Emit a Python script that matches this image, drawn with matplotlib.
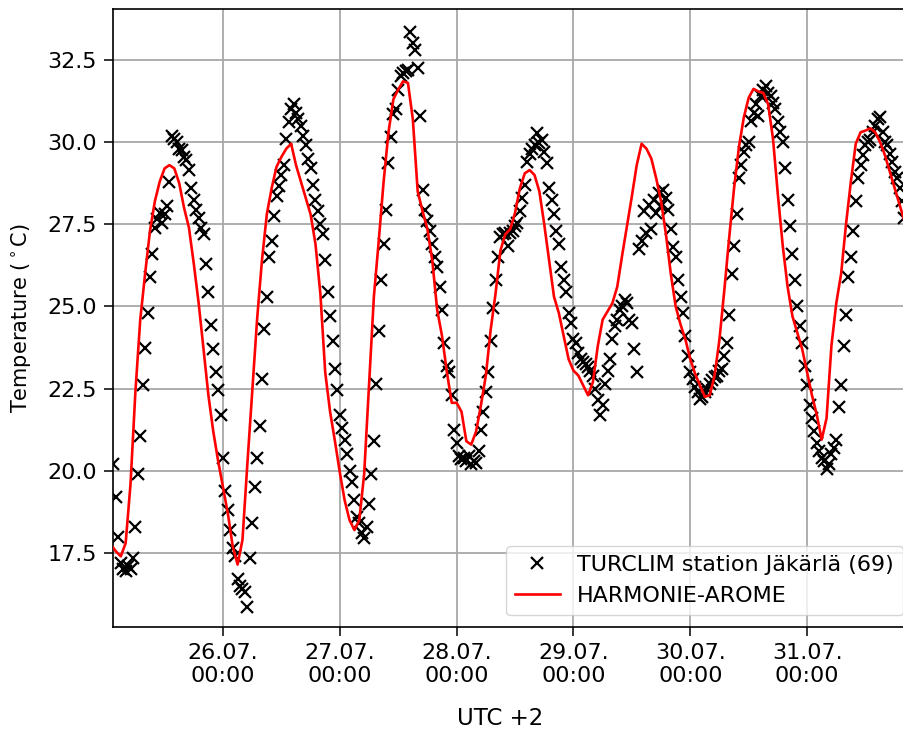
import numpy as np
import pandas as pd
import matplotlib
matplotlib.use('Agg')
import matplotlib.pyplot as plt
import matplotlib.dates as mdates

# Station observations, every 30 min from 25.07. 01:30 (UTC+2)
obs_25 = [20.2, 19.2, 18.0, 17.2, 17.0, 16.95, 17.1, 17.0, 17.35, 18.3,
          19.9, 21.05, 22.6, 23.75, 24.8, 25.9, 26.6, 27.4, 27.65, 27.85,
          27.55, 27.8, 28.05, 28.8, 30.2, 30.1, 30.0, 29.8, 29.75, 29.55,
          29.45, 29.15, 28.6, 28.25, 27.95, 27.7, 27.4, 27.2, 26.3, 25.45,
          24.45, 23.7, 23.0, 22.45, 21.7]
obs_26 = [20.4, 19.4, 18.8, 18.2, 17.65, 17.4, 16.7, 16.5, 16.4, 16.3,
          15.85, 17.35, 18.4, 19.5, 20.4, 21.35, 22.8, 24.3, 25.3, 26.5,
          27.0, 27.75, 28.35, 28.65, 29.0, 29.3, 30.1, 30.6, 31.0, 31.15,
          30.9, 30.7, 30.5, 30.2, 29.9, 29.5, 29.2, 28.7, 28.25, 27.9,
          27.5, 27.2, 26.4, 25.45, 24.7, 23.95, 23.1, 22.45]
obs_27 = [21.7, 21.3, 20.95, 20.5, 20.0, 19.65, 19.1, 18.6, 18.4, 18.1,
          17.95, 18.3, 19.0, 19.9, 20.9, 22.65, 24.25, 25.8, 26.9, 27.95,
          29.35, 30.15, 30.85, 31.0, 31.6, 32.0, 32.1, 32.15, 32.2, 33.35,
          33.0, 32.8, 32.25, 30.8, 28.55, 27.95, 27.6, 27.3, 26.9, 26.5,
          26.2, 25.6, 24.9, 23.9, 23.2, 23.0, 22.3, 21.25]
obs_28 = [20.85, 20.45, 20.35, 20.4, 20.3, 20.45, 20.2, 20.3, 20.25, 20.6,
          21.25, 21.8, 22.4, 23.0, 23.95, 24.95, 25.8, 26.5, 27.1, 27.2,
          27.25, 26.85, 27.25, 27.3, 27.45, 27.55, 27.9, 28.3, 28.7, 29.4,
          29.65, 29.8, 29.9, 30.28, 29.97, 30.07, 29.7, 29.36, 28.6, 28.24,
          27.8, 27.3, 26.9, 26.2, 25.8, 25.45, 24.8, 24.5]
obs_29 = [24.0, 23.9, 23.6, 23.4, 23.3, 23.25, 23.15, 23.05, 22.9, 22.5,
          22.15, 21.7, 22.0, 22.65, 23.05, 23.4, 24.0, 24.4, 24.6, 24.9,
          25.0, 25.2, 25.1, 24.6, 24.5, 23.7, 23.0, 26.75, 27.0, 27.9,
          27.25, 28.1, 27.35, 28.25, 27.85, 28.45, 28.05, 28.55, 28.3, 27.95,
          27.35, 26.8, 26.5, 25.8, 25.3, 24.8, 24.1, 23.5]
obs_30 = [23.0, 22.8, 22.55, 22.4, 22.2, 22.25, 22.4, 22.5, 22.65, 22.75,
          22.85, 22.9, 23.05, 23.1, 23.5, 23.9, 24.75, 26.0, 26.85, 27.8,
          28.9, 29.3, 29.7, 29.9, 30.0, 30.65, 30.9, 31.15, 30.8, 31.4,
          31.6, 31.7, 31.5, 31.4, 31.2, 31.0, 30.6, 30.3, 30.0, 29.2,
          28.25, 27.45, 26.6, 25.8, 25.0, 24.4, 23.9, 23.2]
obs_31 = [22.6, 22.0, 21.6, 21.2, 20.85, 20.6, 20.4, 20.3, 20.05, 20.2,
          20.5, 20.7, 20.95, 21.95, 22.6, 23.8, 24.75, 25.9, 26.5, 27.3,
          28.2, 28.9, 29.3, 29.6, 29.9, 30.0, 30.05, 30.3, 30.5, 30.7,
          30.75, 30.3, 30.0, 29.9, 29.65, 29.4, 29.1, 28.9, 28.6, 28.2,
          27.7]

# HARMONIE-AROME model, hourly from 25.07. 01:00
model_25 = [17.75, 17.55, 17.4, 17.8, 19.6, 22.4, 24.6, 26.0, 27.3, 28.2,
            28.8, 29.2, 29.3, 29.2, 28.75, 28.0, 27.4, 26.3, 25.1, 23.7,
            22.3, 21.2, 20.3]
model_26 = [19.5, 18.7, 17.7, 17.15, 17.9, 20.2, 22.4, 24.6, 26.4, 27.8,
            28.6, 29.25, 29.55, 29.8, 29.95, 29.3, 28.8, 28.3, 27.8, 26.9,
            25.4, 23.0, 21.8, 20.9]
model_27 = [19.95, 19.1, 18.5, 18.2, 18.5, 19.9, 22.6, 25.3, 27.0, 28.8,
            30.3, 31.3, 31.6, 31.85, 31.8, 30.7, 28.5, 27.9, 27.35, 26.4,
            24.9, 24.1, 23.0, 22.07]
model_28 = [22.07, 21.8, 20.9, 20.8, 21.2, 22.0, 22.9, 24.3, 25.4, 26.7,
            27.2, 27.35, 27.85, 28.6, 29.05, 29.15, 29.0, 28.5, 27.5, 26.4,
            25.3, 24.8, 24.1, 23.4]
model_29 = [23.05, 22.9, 22.6, 22.3, 22.7, 23.8, 24.6, 24.85, 25.1, 25.6,
            26.55, 27.45, 28.35, 29.3, 29.95, 29.8, 29.5, 28.9, 28.2, 27.2,
            26.0, 25.0, 24.45, 24.0]
model_30 = [23.4, 22.95, 22.6, 22.25, 22.3, 22.9, 24.0, 25.5, 27.1, 28.6,
            29.85, 30.75, 31.35, 31.62, 31.54, 31.5, 31.15, 30.1, 28.4, 26.85,
            25.6, 24.7, 24.2, 23.7]
model_31 = [23.0, 22.3, 21.7, 20.95, 21.6, 23.8, 25.1, 26.0, 27.5, 28.8,
            29.95, 30.3, 30.35, 30.42, 30.3, 30.0, 29.6, 29.1, 28.6, 28.1,
            27.6, 26.5]

obs_temp = np.concatenate([obs_25, obs_26, obs_27, obs_28, obs_29, obs_30, obs_31])
model_temp = np.concatenate([model_25, model_26, model_27, model_28, model_29, model_30, model_31])
obs_time = pd.date_range('2018-07-25 01:30', periods=len(obs_temp), freq='30min')
model_time = pd.date_range('2018-07-25 01:00', periods=len(model_temp), freq='h')

fig = plt.figure(figsize=(9.04, 7.34), dpi=100)
# axes run past the right edge of the picture, as in the cropped original
ax = fig.add_axes([113 / 904, 107 / 734, 807 / 904, 617.7 / 734])

ax.plot(obs_time, obs_temp, 'x', color='k', ms=8, mew=1.6,
        label='TURCLIM station Jäkärlä (69)', zorder=3)
ax.plot(model_time, model_temp, color='red', lw=1.9,
        label='HARMONIE-AROME', zorder=4)

day0 = pd.Timestamp('2018-07-26')
ax.set_xlim(day0 - pd.Timedelta(hours=22.6), day0 + pd.Timedelta(hours=143.2))
ax.set_ylim(15.25, 34.04)
ax.xaxis.set_major_locator(mdates.DayLocator())
ax.xaxis.set_major_formatter(mdates.DateFormatter('%d.%m.\n%H:%M'))
ax.set_yticks(np.arange(17.5, 33, 2.5))

ax.grid(True, color='#a8a8a8', lw=1.3)
ax.set_axisbelow(True)
ax.tick_params(labelsize=16, length=6.5, width=1.1, pad=5)
for s in ax.spines.values():
    s.set_linewidth(1.2)

ax.set_xlabel('UTC +2', fontsize=16.5)
ax.xaxis.set_label_coords((500 - 113) / 807, (627 - 707) / 617.7)
ax.set_ylabel('Temperature ($^\\circ$C)', fontsize=15)
ax.yaxis.set_label_coords((33 - 113) / 807, 0.5)

ax.legend(loc='lower right', bbox_to_anchor=(903 / 904, 119 / 734),
          bbox_transform=fig.transFigure, borderaxespad=0, fontsize=16)

fig.savefig('out.png', dpi=100)
